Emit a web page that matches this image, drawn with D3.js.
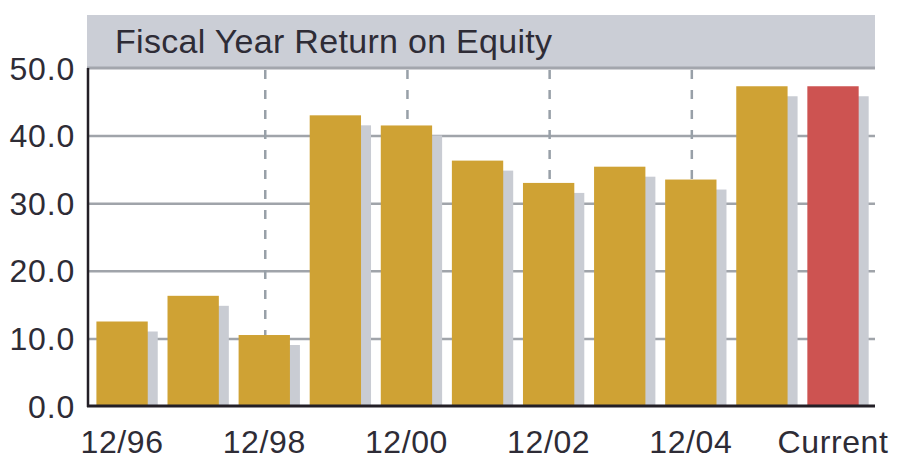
<!DOCTYPE html>
<html>
<head>
<meta charset="utf-8">
<script src="https://cdn.jsdelivr.net/npm/d3@7"></script>
<style>
  body { margin: 0; background: #fff; }
  svg text { font-family: "Liberation Sans", Arial, sans-serif; }
</style>
</head>
<body>
<div id="chart"></div>
<script>
// data
const categories = ['12/96', '12/97', '12/98', '12/99', '12/00', '12/01', '12/02', '12/03', '12/04', '12/05', 'Current'];
const roeValues = [12.5, 16.3, 10.5, 43.0, 41.5, 36.3, 33.0, 35.4, 33.5, 47.3, 47.3];
const xTickLabels = ['12/96', '12/98', '12/00', '12/02', '12/04', 'Current'];
const yTicks = [0, 10, 20, 30, 40, 50];
const dashedAt = ['12/98', '12/00', '12/02', '12/04'];

const options = {
  w: 900, h: 473,
  mTop: 68, mRight: 25, mBottom: 67, mLeft: 88,
  titleTop: 15,
  shadowDx: 10, shadowDy: 10,
  gold: '#cfa234', red: '#cd5351', shadow: '#c9ccd3', grid: '#a0a4aa'
};

const width = options.w - options.mLeft - options.mRight,
  height = options.h - options.mTop - options.mBottom;

const svg = d3.select('#chart').append('svg')
  .attr('width', options.w)
  .attr('height', options.h);

// title band
svg.append('rect')
  .attr('x', options.mLeft - 1)
  .attr('y', options.titleTop)
  .attr('width', width + 1)
  .attr('height', options.mTop - options.titleTop)
  .attr('fill', '#cbced6');

svg.append('text')
  .attr('x', 115)
  .attr('y', 53)
  .attr('font-size', 34)
  .attr('letter-spacing', 0.3)
  .attr('fill', '#2e2c36')
  .text('Fiscal Year Return on Equity');

const g = svg.append('g')
  .attr('transform', `translate(${options.mLeft},${options.mTop})`);

// scales
const x = d3.scaleBand().domain(categories).range([0, width])
  .paddingInner(0.278).paddingOuter(0.174).align(0.34);
const y = d3.scaleLinear().domain([0, 50]).range([height, 0]);

// horizontal grid
g.append('g')
  .call(d3.axisLeft(y).tickValues(yTicks.slice(1, -1)).tickSize(-width).tickFormat(''))
  .call(a => a.select('.domain').remove())
  .selectAll('.tick line')
  .attr('stroke', options.grid)
  .attr('stroke-width', 2.5);

// top edge of plot (50.0 line)
g.append('line')
  .attr('x1', -1).attr('x2', width)
  .attr('y1', y(50)).attr('y2', y(50))
  .attr('stroke', '#a3a6ad')
  .attr('stroke-width', 3);

// dashed vertical lines
g.selectAll('.vdash')
  .data(dashedAt)
  .enter()
  .append('line')
  .attr('x1', d => x(d) + x.bandwidth() / 2 + 1)
  .attr('x2', d => x(d) + x.bandwidth() / 2 + 1)
  .attr('y1', y(50) + 2)
  .attr('y2', y(0))
  .attr('stroke', '#98a0a8')
  .attr('stroke-width', 2.5)
  .attr('stroke-dasharray', '9,11');

// shadows
g.selectAll('.shadow')
  .data(roeValues)
  .enter()
  .append('rect')
  .attr('x', (d, i) => x(categories[i]) + options.shadowDx)
  .attr('y', d => y(d) + options.shadowDy)
  .attr('width', x.bandwidth())
  .attr('height', d => Math.max(0, height - y(d) - options.shadowDy))
  .attr('fill', options.shadow);

// bars
g.selectAll('.bar')
  .data(roeValues)
  .enter()
  .append('rect')
  .attr('x', (d, i) => x(categories[i]))
  .attr('y', d => y(d))
  .attr('width', x.bandwidth())
  .attr('height', d => height - y(d))
  .attr('fill', (d, i) => categories[i] === 'Current' ? options.red : options.gold);

// y axis line
g.append('line')
  .attr('x1', 0).attr('x2', 0)
  .attr('y1', y(50)).attr('y2', y(0) + 1)
  .attr('stroke', '#231f26')
  .attr('stroke-width', 2.5);

// x axis line
g.append('line')
  .attr('x1', -1).attr('x2', width)
  .attr('y1', y(0)).attr('y2', y(0))
  .attr('stroke', '#231f26')
  .attr('stroke-width', 3);

// y tick labels
g.selectAll('.ylab')
  .data(yTicks)
  .enter()
  .append('text')
  .attr('x', -13)
  .attr('y', d => y(d))
  .attr('dy', '0.36em')
  .attr('text-anchor', 'end')
  .attr('font-size', 32)
  .attr('letter-spacing', 0.8)
  .attr('fill', '#2e2c36')
  .text(d => d3.format('.1f')(d));

// x tick labels
g.selectAll('.xlab')
  .data(xTickLabels)
  .enter()
  .append('text')
  .attr('x', d => x(d) + x.bandwidth() / 2)
  .attr('y', height + 47)
  .attr('text-anchor', 'middle')
  .attr('font-size', 32)
  .attr('letter-spacing', 0.6)
  .attr('fill', '#2e2c36')
  .text(d => d);
</script>
</body>
</html>
